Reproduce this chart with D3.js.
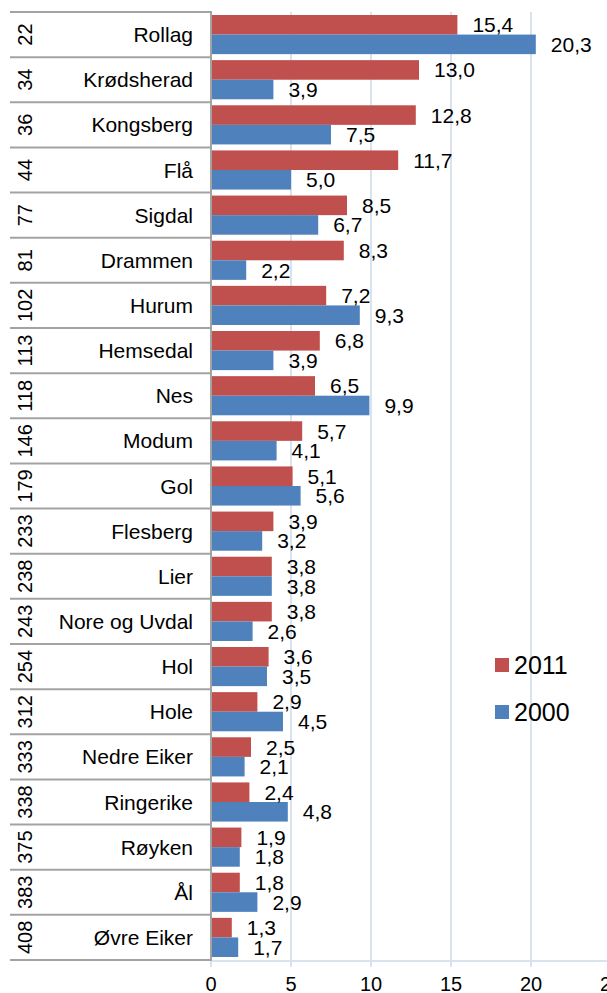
<!DOCTYPE html>
<html><head><meta charset="utf-8">
<script src="https://cdn.jsdelivr.net/npm/d3@7"></script>
<style>
html,body{margin:0;padding:0;background:#fff;}
svg{display:block;font-family:"Liberation Sans",Arial,sans-serif;}
</style></head>
<body>
<svg id="c" width="607" height="993"></svg>
<script>
const ranks = [22,34,36,44,77,81,102,113,118,146,179,233,238,243,254,312,333,338,375,383,408];
const names = ["Rollag","Krødsherad","Kongsberg","Flå","Sigdal","Drammen","Hurum","Hemsedal","Nes","Modum","Gol","Flesberg","Lier","Nore og Uvdal","Hol","Hole","Nedre Eiker","Ringerike","Røyken","Ål","Øvre Eiker"];
const v2011 = [15.4,13.0,12.8,11.7,8.5,8.3,7.2,6.8,6.5,5.7,5.1,3.9,3.8,3.8,3.6,2.9,2.5,2.4,1.9,1.8,1.3];
const v2000 = [20.3,3.9,7.5,5.0,6.7,2.2,9.3,3.9,9.9,4.1,5.6,3.2,3.8,2.6,3.5,4.5,2.1,4.8,1.8,2.9,1.7];
const seriesNames = ["2011","2000"];
const xTicks = [0,5,10,15,20,25];

const colors = {"2011":"#c0504d","2000":"#4f81bd"};
const svg = d3.select("#c");
const yTop = 12, yBot = 960, x0 = 211;
const x = d3.scaleLinear().domain([0,25]).range([x0, 611]);
const y = d3.scaleBand().domain(names).range([yTop, yBot]).padding(0);
const yi = d3.scaleBand().domain(seriesNames).range([3, y.bandwidth()-3]).padding(0);
const fmt = v => d3.format(".1f")(v).replace(".", ",");

// grid lines
svg.append("g").selectAll("line").data(xTicks.slice(1)).join("line")
  .attr("x1", d=>x(d)).attr("x2", d=>x(d)).attr("y1", yTop).attr("y2", 967)
  .attr("stroke", "#d9e2ef").attr("stroke-width", 2);
svg.append("line").attr("x1", x0).attr("x2", 607).attr("y1", 961).attr("y2", 961)
  .attr("stroke", "#d9e2ef").attr("stroke-width", 2);
svg.append("line").attr("x1", x0).attr("x2", x0).attr("y1", 960).attr("y2", 967)
  .attr("stroke", "#d9e2ef").attr("stroke-width", 2);

// tick labels
svg.append("g").selectAll("text").data(xTicks).join("text")
  .attr("x", d=>x(d)).attr("y", 991).attr("text-anchor","middle")
  .attr("font-size", 20).attr("fill","#000").text(d=>d);

// table
const rowLines = d3.range(names.length+1).map(i => yTop + i*y.step());
svg.append("g").selectAll("line").data(rowLines).join("line")
  .attr("x1", 10).attr("x2", x0).attr("y1", d=>d).attr("y2", d=>d)
  .attr("stroke", "#a3a3a3").attr("stroke-width", 2);

// bars
const data = names.map((n,i)=>({name:n, rank:ranks[i], vals:[{s:"2011",v:v2011[i]},{s:"2000",v:v2000[i]}]}));
const rows = svg.append("g").selectAll("g").data(data).join("g")
  .attr("transform", d=>`translate(0,${y(d.name)})`);
rows.selectAll("rect").data(d=>d.vals).join("rect")
  .attr("x", x(0)).attr("y", d=>yi(d.s)).attr("width", d=>x(d.v)-x(0)).attr("height", yi.bandwidth())
  .attr("fill", d=>colors[d.s]);
rows.selectAll("text.val").data(d=>d.vals).join("text").attr("class","val")
  .attr("x", d=>x(d.v)+15).attr("y", d=>yi(d.s)+yi.bandwidth()/2)
  .attr("dy","0.36em").attr("font-size", 21).attr("fill","#000").text(d=>fmt(d.v));

// names
rows.append("text").attr("x", 193).attr("y", y.bandwidth()/2).attr("dy","0.36em")
  .attr("text-anchor","end").attr("font-size", 21).attr("fill","#000").text(d=>d.name);
// ranks rotated
rows.append("text")
  .attr("transform", `translate(25,${y.bandwidth()/2}) rotate(-90)`)
  .attr("dy","0.36em").attr("text-anchor","middle").attr("font-size", 20).attr("fill","#000")
  .text(d=>d.rank);

// right border of table
svg.append("line").attr("x1", x0).attr("x2", x0).attr("y1", yTop-1).attr("y2", yBot+1)
  .attr("stroke", "#a3a3a3").attr("stroke-width", 2);

// legend
const lg = svg.append("g").selectAll("g").data(seriesNames).join("g")
  .attr("transform", (d,i)=>`translate(495,${658 + i*47})`);
lg.append("rect").attr("width", 14).attr("height", 14).attr("fill", d=>colors[d]);
lg.append("text").attr("x", 19).attr("y", 7).attr("dy","0.36em")
  .attr("font-size", 25).attr("fill","#000").text(d=>d);
</script>
</body></html>
